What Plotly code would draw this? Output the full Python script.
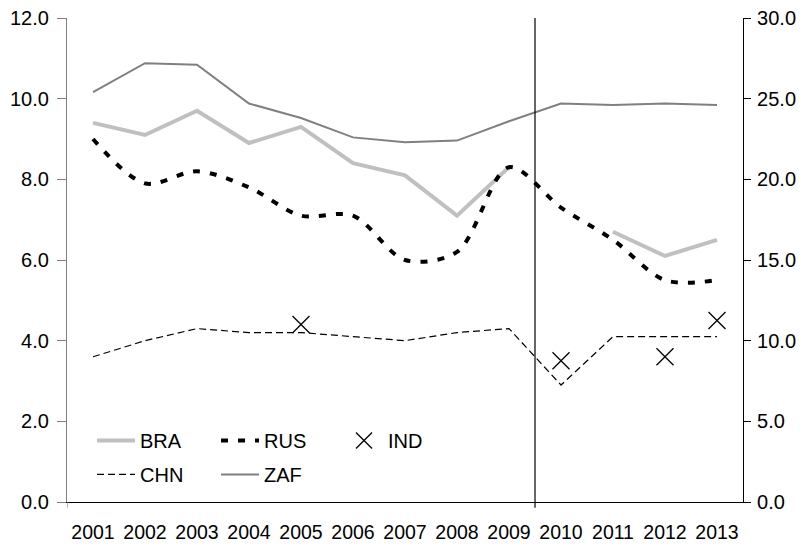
import plotly.graph_objects as go

# unemployment rates, BRICS, 2001-2013 (ZAF on right axis)
years = [str(y) for y in range(2001, 2014)]
bra = [9.4, 9.1, 9.7, 8.9, 9.3, 8.4, 8.1, 7.1, 8.3, None, 6.7, 6.1, 6.5]
rus = [9.0, 7.9, 8.2, 7.8, 7.1, 7.1, 6.0, 6.2, 8.3, 7.3, 6.5, 5.5, 5.5]
ind = [None, None, None, None, 4.4, None, None, None, None, 3.5, None, 3.6, 4.5]
chn = [3.6, 4.0, 4.3, 4.2, 4.2, 4.1, 4.0, 4.2, 4.3, 2.9, 4.1, 4.1, 4.1]
zaf = [25.4, 27.2, 27.1, 24.7, 23.8, 22.6, 22.3, 22.4, 23.6, 24.7, 24.6, 24.7, 24.6]

left_ticks = [0, 2, 4, 6, 8, 10, 12]
right_ticks = [0, 5, 10, 15, 20, 25, 30]

FONT = "Liberation Sans, Arial, sans-serif"

fig = go.Figure()

fig.add_trace(go.Scatter(
    x=years, y=bra, name="BRA", mode="lines",
    line=dict(color="#c0c0c0", width=4),
    legend="legend", legendrank=1,
))
fig.add_trace(go.Scatter(
    x=years, y=zaf, name="ZAF", mode="lines", yaxis="y2",
    line=dict(color="#808080", width=2),
    legend="legend2", legendrank=5,
))
fig.add_trace(go.Scatter(
    x=years, y=chn, name="CHN", mode="lines",
    line=dict(color="black", width=1.2, dash="7px,4px"),
    legend="legend2", legendrank=4,
))
fig.add_trace(go.Scatter(
    x=years, y=rus, name="RUS", mode="lines",
    line=dict(color="black", width=4, dash="7px,10px", shape="spline", smoothing=0.9),
    legend="legend", legendrank=2,
))
fig.add_trace(go.Scatter(
    x=years, y=ind, name="IND", mode="markers",
    marker=dict(symbol="x-thin-open", size=17, color="black",
                line=dict(color="black", width=1.3)),
    legend="legend", legendrank=3,
))

# vertical marker between 2009 and 2010, and left-axis foot below the x axis
fig.add_shape(type="line", xref="x", yref="paper", x0=8.5, x1=8.5, y0=-0.012, y1=1,
              line=dict(color="black", width=1.2))
fig.add_shape(type="line", xref="x", yref="paper", x0=-0.5, x1=-0.5, y0=-0.012, y1=0,
              line=dict(color="#808080", width=1.2))

legend_common = dict(
    orientation="h", xanchor="left", yanchor="middle",
    entrywidth=71, entrywidthmode="pixels", itemwidth=38,
    font=dict(family=FONT, size=20, color="black"),
    bgcolor="rgba(0,0,0,0)", traceorder="normal",
)

# the page body adds an 8px offset, so the figure is 8px smaller each way
fig.update_layout(
    width=798, height=541,
    margin=dict(l=59, r=63, t=10, b=47),
    paper_bgcolor="white", plot_bgcolor="white",
    font=dict(family=FONT, size=20, color="black"),
    legend=dict(x=0.037, y=0.127, **legend_common),
    legend2=dict(x=0.037, y=0.057, **legend_common),
    xaxis=dict(
        type="category", range=[-0.5, 12.5], automargin=False,
        showline=True, linecolor="black", linewidth=1.2,
        ticks="", showgrid=False, zeroline=False,
        tickfont=dict(size=19.5), ticklabelstandoff=12,
        ticklabeloverflow="allow",
    ),
    yaxis=dict(
        range=[0, 12], tickvals=left_ticks, tickformat=".1f", automargin=False,
        showline=True, linecolor="#808080", linewidth=1.2,
        ticks="outside", ticklen=9, tickcolor="#808080", tickwidth=1.2,
        showgrid=False, zeroline=False, ticklabelstandoff=4,
        ticklabeloverflow="allow",
    ),
    yaxis2=dict(
        range=[0, 30], tickvals=right_ticks, tickformat=".1f", automargin=False,
        overlaying="y", side="right",
        showline=True, linecolor="black", linewidth=1.2,
        ticks="outside", ticklen=7, tickcolor="black", tickwidth=1.2,
        showgrid=False, zeroline=False, ticklabelstandoff=2,
        ticklabeloverflow="allow",
    ),
    yaxis3=dict(
        range=[0, 30], tickvals=right_ticks, automargin=False,
        overlaying="y", side="right", anchor="x",
        showline=False, showticklabels=False,
        ticks="inside", ticklen=6, tickcolor="black", tickwidth=1.2,
        showgrid=False, zeroline=False,
    ),
    showlegend=True,
)

fig.write_html("out.html")
